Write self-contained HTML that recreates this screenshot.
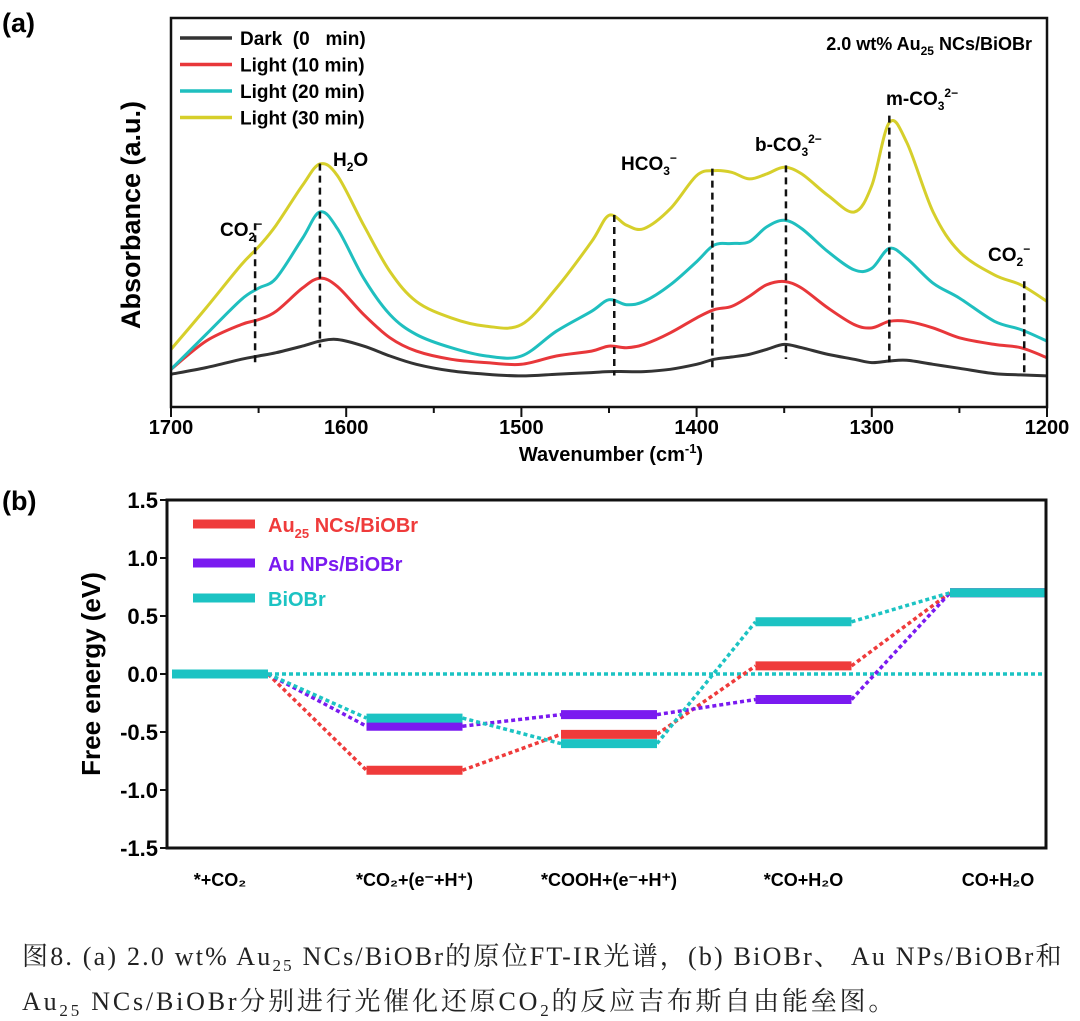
<!DOCTYPE html>
<html><head><meta charset="utf-8"><style>
body{margin:0;background:#fff;width:1080px;height:1018px;overflow:hidden}
svg text{font-family:"Liberation Sans",Arial,sans-serif}
.cap{position:absolute;left:22px;font-family:"Liberation Serif","Noto Serif CJK SC",serif;font-size:26px;letter-spacing:2.8px;color:#222;white-space:nowrap}
</style></head><body>
<svg width="1080" height="1018" style="position:absolute;left:0;top:0">
<text x="2" y="32" font-size="27" font-weight="bold">(a)</text>
<text x="2" y="510" font-size="27" font-weight="bold">(b)</text>
<g id="top"></g><g id="bot"></g>
</svg>
<div class="cap" style="top:936px;letter-spacing:2.2px">图8. (a) 2.0 wt% Au<sub style="font-size:17px">25</sub> NCs/BiOBr的原位FT-IR光谱，(b) BiOBr、 Au NPs/BiOBr和</div>
<div class="cap" style="top:981px">Au<sub style="font-size:17px">25</sub> NCs/BiOBr分别进行光催化还原CO<sub style="font-size:17px">2</sub>的反应吉布斯自由能垒图。</div>
<script>
const wn=[1700,1680,1660,1650,1640,1625,1615,1605,1590,1575,1560,1540,1520,1500,1480,1460,1450,1440,1430,1415,1400,1390,1380,1370,1360,1350,1340,1325,1310,1300,1290,1280,1265,1250,1230,1215,1200];
const absDark=[99,119,144,154,164,184,199,204,184,154,129,109,99,94,99,104,107,107,107,114,129,144,151,159,174,189,179,159,144,134,139,141,129,117,101,97,94];
const abs10=[114,199,249,264,289,359,389,364,279,209,169,144,134,129,154,169,184,179,189,224,269,294,304,334,369,379,359,299,249,239,259,259,239,209,189,179,149];
const abs20=[114,219,324,359,389,509,589,539,389,279,219,179,154,154,229,289,324,309,319,369,439,489,494,499,544,564,539,469,414,419,479,449,374,329,259,234,199];
const abs30=[174,299,429,484,549,669,734,699,549,409,319,269,244,249,359,499,579,549,539,599,699,714,709,689,704,724,704,639,589,669,859,799,589,469,399,369,319];
const seriesNames=["Dark  (0   min)","Light (10 min)","Light (20 min)","Light (30 min)"];
const peakWn=[1652,1615,1447,1391,1349,1290,1213];
const peakTop=[555,735,580,720,730,880,380];
const peakBot=[125,180,95,120,145,135,92];
const xTicks=[1700,1600,1500,1400,1300,1200];
const steps=["*+CO₂","*CO₂+(e⁻+H⁺)","*COOH+(e⁻+H⁺)","*CO+H₂O","CO+H₂O"];
const gAu25=[0,-0.83,-0.52,0.07,0.70];
const gAuNP=[0,-0.45,-0.35,-0.22,0.70];
const gBiOBr=[0,-0.38,-0.60,0.45,0.70];
const yTicks=[1.5,1.0,0.5,0.0,-0.5,-1.0,-1.5];
const NS="http://www.w3.org/2000/svg";
function mk(p,t,a,txt){const e=document.createElementNS(NS,t);for(const k in a)e.setAttribute(k,a[k]);if(txt!=null)e.textContent=txt;p.appendChild(e);return e;}
function smooth(pts){let d='M'+pts[0][0].toFixed(1)+','+pts[0][1].toFixed(1);
 for(let i=0;i<pts.length-1;i++){const p0=pts[Math.max(0,i-1)],p1=pts[i],p2=pts[i+1],p3=pts[Math.min(pts.length-1,i+2)];
  const c1=[p1[0]+(p2[0]-p0[0])/6,p1[1]+(p2[1]-p0[1])/6],c2=[p2[0]-(p3[0]-p1[0])/6,p2[1]-(p3[1]-p1[1])/6];
  d+='C'+c1.map(v=>v.toFixed(1))+' '+c2.map(v=>v.toFixed(1))+' '+p2.map(v=>v.toFixed(1));}
 return d;}
const T=document.getElementById('top');
const X=w=>171+(1700-w)*(1047-171)/500, Y=a=>407-a*(407-18)/1175;
const cols=["#333333","#e8373a","#1fbfbf","#d6cf2b"];
[absDark,abs10,abs20,abs30].forEach((s,i)=>{
 const p=mk(T,'path',{d:smooth(s.map((v,j)=>[X(wn[j]),Y(v)])),fill:'none',stroke:cols[i],'stroke-width':3,'stroke-linejoin':'round'});
 
 
 const l=mk(T,'line',{x1:180,x2:232,y1:38+i*26.5,y2:38+i*26.5,stroke:cols[i],'stroke-width':3.5});
 
 
 const t=mk(T,'text',{x:240,y:45+i*26.5,'font-size':19,'font-weight':'bold',style:'white-space:pre'},seriesNames[i]);
 
 
});
peakWn.forEach((w,i)=>{const l=mk(T,'line',{x1:X(w),x2:X(w),y1:Y(peakTop[i]),y2:Y(peakBot[i]),stroke:'#111','stroke-width':2.5,'stroke-dasharray':'7,5'});
 
 });
const fr=mk(T,'rect',{x:171,y:18,width:876,height:389,fill:'none',stroke:'#111','stroke-width':2.5});


for(let w=1700;w>=1200;w-=50){mk(T,'line',{x1:X(w),x2:X(w),y1:407,y2:w%100?413:417,stroke:'#111','stroke-width':2});}
xTicks.forEach(w=>{const t=mk(T,'text',{x:X(w),y:434,'font-size':20,'font-weight':'bold','text-anchor':'middle'},w);
 
 });
T.insertAdjacentHTML('beforeend',`
<text x="611" y="461" font-size="20" font-weight="bold" text-anchor="middle">Wavenumber (cm<tspan dy="-8" font-size="13">-1</tspan><tspan dy="8">)</tspan></text>
<text transform="translate(140,215) rotate(-90)" font-size="27" font-weight="bold" text-anchor="middle">Absorbance (a.u.)</text>
<text x="1032" y="50" font-size="18" font-weight="bold" text-anchor="end">2.0 wt% Au<tspan dy="5" font-size="12">25</tspan><tspan dy="-5"> NCs/BiOBr</tspan></text>
<g font-size="19" font-weight="bold">
<text x="220" y="236">CO<tspan dy="5" font-size="12">2</tspan><tspan dy="-13" font-size="12">−</tspan></text>
<text x="333" y="166">H<tspan dy="5" font-size="12">2</tspan><tspan dy="-5">O</tspan></text>
<text x="621" y="170">HCO<tspan dy="5" font-size="12">3</tspan><tspan dy="-13" font-size="12">−</tspan></text>
<text x="755" y="151">b-CO<tspan dy="5" font-size="12">3</tspan><tspan dy="-13" font-size="12">2−</tspan></text>
<text x="886" y="105">m-CO<tspan dy="5" font-size="12">3</tspan><tspan dy="-13" font-size="12">2−</tspan></text>
<text x="988" y="261">CO<tspan dy="5" font-size="12">2</tspan><tspan dy="-13" font-size="12">−</tspan></text>
</g>`);
const B=document.getElementById('bot');
const L=167,R=1046,TOP=500,BOT=848;
const YB=v=>TOP+(1.5-v)*(BOT-TOP)/3;
const SX=i=>172+i*194.5, SW=96;
const bcols=["#ef3b3b","#7a1af0","#1cc3c3"];
const bnames=["Au25","AuNP","BiOBr"];
mk(B,'line',{x1:SX(0)+SW,x2:R,y1:YB(0),y2:YB(0),stroke:'#1cc3c3','stroke-width':3.5,'stroke-dasharray':'4,3'});
[gAu25,gAuNP,gBiOBr].forEach((s,k)=>{
 for(let i=0;i<s.length-1;i++){const c=mk(B,'line',{x1:SX(i)+SW,y1:YB(s[i]),x2:SX(i+1),y2:YB(s[i+1]),stroke:bcols[k],'stroke-width':3.5,'stroke-dasharray':'4,3'});
  
  }
});
[gAu25,gAuNP,gBiOBr].forEach((s,k)=>{
 s.forEach((v,i)=>{const r=mk(B,'line',{x1:SX(i),x2:i==4?R:SX(i)+SW,y1:YB(v),y2:YB(v),stroke:bcols[k],'stroke-width':9});
  
  });
});
const fb=mk(B,'rect',{x:L,y:TOP,width:R-L,height:BOT-TOP,fill:'none',stroke:'#111','stroke-width':3});


yTicks.forEach(v=>{mk(B,'line',{x1:L-7,x2:L,y1:YB(v),y2:YB(v),stroke:'#111','stroke-width':2});
 const t=mk(B,'text',{x:L-9,y:YB(v)+8,'font-size':22,'font-weight':'bold','text-anchor':'end'},v.toFixed(1));
 
 });
steps.forEach((s,i)=>{const t=mk(B,'text',{x:SX(i)+SW/2,y:886,'font-size':18,'font-weight':'bold','text-anchor':'middle'},s);
 
 });
B.insertAdjacentHTML('beforeend',`
<text transform="translate(100,674) rotate(-90)" font-size="26" font-weight="bold" text-anchor="middle">Free energy (eV)</text>
<line x1="193" x2="255" y1="524" y2="524" stroke="#ef3b3b" stroke-width="9"/>
<line x1="193" x2="255" y1="563" y2="563" stroke="#7a1af0" stroke-width="9"/>
<line x1="193" x2="255" y1="598" y2="598" stroke="#1cc3c3" stroke-width="9"/>
<text x="268" y="532" font-size="20" font-weight="bold" fill="#ef3b3b">Au<tspan dy="6" font-size="13">25</tspan><tspan dy="-6"> NCs/BiOBr</tspan></text>
<text x="268" y="571" font-size="20" font-weight="bold" fill="#7a1af0">Au NPs/BiOBr</text>
<text x="268" y="606" font-size="20" font-weight="bold" fill="#1cc3c3">BiOBr</text>`);
</script>
</body></html>
